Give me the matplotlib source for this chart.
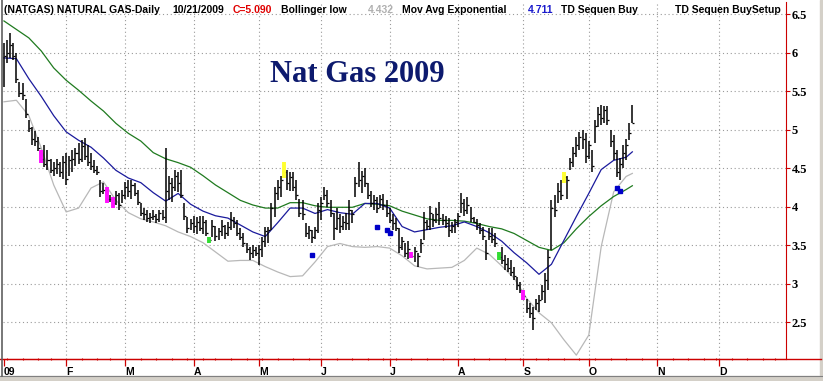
import matplotlib.pyplot as plt
import numpy as np
import pandas as pd
from matplotlib.lines import Line2D
from matplotlib.patches import Rectangle

# NYMEX trading calendar 2009
holidays = ['2009-01-01', '2009-01-19', '2009-02-16', '2009-04-10', '2009-05-25',
            '2009-07-03', '2009-09-07', '2009-11-26', '2009-12-25']
days = pd.bdate_range('2009-01-01', '2009-12-31', freq='C', holidays=holidays)

# daily bars, Jan 2 .. Oct 21 2009
high = [6.12, 6.16, 6.25, 6.12, 6.00, 5.62, 5.60, 5.40, 5.12, 5.03,
        4.98, 4.90, 4.74, 4.80, 4.73, 4.62, 4.58, 4.62, 4.58, 4.66,
        4.70, 4.66, 4.74, 4.76, 4.82, 4.86, 4.89, 4.80, 4.70, 4.60,
        4.52, 4.34, 4.30, 4.25, 4.15, 4.12, 4.20, 4.18, 4.22, 4.32,
        4.34, 4.34, 4.30, 4.22, 4.05, 3.98, 3.95, 3.92, 3.96, 3.90,
        3.96, 3.95, 4.76, 4.40, 4.37, 4.48, 4.45, 4.47, 4.05, 3.86,
        3.84, 3.88, 3.86, 3.88, 3.88, 3.82, 3.60, 3.82, 3.75, 3.72,
        3.82, 3.76, 3.80, 3.93, 3.86, 3.82, 3.72, 3.66, 3.53, 3.47,
        3.50, 3.48, 3.50, 3.60, 3.73, 3.74, 4.05, 4.25, 4.34, 4.40,
        4.58, 4.48, 4.45, 4.45, 4.34, 4.10, 4.08, 3.79, 3.75, 3.70,
        3.74, 4.05, 4.12, 4.25, 4.22, 4.08, 3.92, 3.98, 3.90, 3.88,
        3.92, 4.08, 3.96, 4.38, 4.58, 4.46, 4.50, 4.30, 4.20, 4.15,
        4.12, 4.15, 4.16, 4.08, 3.98, 3.90, 3.85, 3.72, 3.60, 3.53,
        3.55, 3.41, 3.48, 3.40, 3.58, 3.93, 3.82, 4.01, 3.90, 3.98,
        4.06, 3.90, 3.88, 3.85, 3.80, 3.84, 3.92, 4.17, 4.10, 4.12,
        4.00, 3.86, 3.84, 3.78, 3.74, 3.56, 3.72, 3.72, 3.66, 3.41,
        3.48, 3.37, 3.33, 3.30, 3.22, 3.08, 3.02, 2.92, 2.80, 2.75,
        2.69, 2.80, 2.85, 2.98, 3.14, 3.44, 4.08, 4.15, 4.30, 4.34,
        4.45, 4.40, 4.63, 4.77, 4.90, 4.97, 5.00, 4.95, 4.85, 4.73,
        5.12, 5.29, 5.32, 5.30, 5.30, 5.00, 4.93, 4.73, 4.63, 4.80,
        4.88, 5.08, 5.32]
low = [5.55, 5.86, 5.93, 5.90, 5.60, 5.42, 5.38, 5.15, 4.97, 4.80,
       4.78, 4.72, 4.56, 4.51, 4.47, 4.43, 4.40, 4.42, 4.38, 4.36,
       4.28, 4.40, 4.45, 4.52, 4.55, 4.58, 4.60, 4.52, 4.47, 4.44,
       4.41, 4.12, 4.16, 4.05, 4.06, 3.98, 4.02, 3.96, 4.05, 4.10,
       4.12, 4.10, 4.14, 4.02, 3.88, 3.82, 3.80, 3.78, 3.82, 3.78,
       3.80, 3.82, 3.79, 4.08, 4.06, 4.20, 4.19, 4.11, 3.82, 3.66,
       3.70, 3.66, 3.64, 3.68, 3.64, 3.62, 3.53, 3.60, 3.55, 3.56,
       3.62, 3.58, 3.62, 3.69, 3.72, 3.62, 3.56, 3.47, 3.40, 3.30,
       3.33, 3.36, 3.24, 3.35, 3.47, 3.52, 3.70, 3.86, 4.08, 4.12,
       4.37, 4.22, 4.20, 4.20, 4.08, 3.86, 3.82, 3.60, 3.58, 3.53,
       3.58, 3.66, 3.82, 4.08, 3.99, 3.86, 3.56, 3.70, 3.66, 3.70,
       3.70, 3.69, 3.78, 4.12, 4.25, 4.18, 4.25, 4.10, 4.00, 3.95,
       3.92, 3.98, 3.96, 3.86, 3.78, 3.70, 3.68, 3.40, 3.44, 3.34,
       3.32, 3.33, 3.28, 3.21, 3.40, 3.56, 3.70, 3.70, 3.74, 3.78,
       3.76, 3.76, 3.72, 3.60, 3.66, 3.66, 3.74, 3.92, 3.88, 3.90,
       3.80, 3.78, 3.70, 3.64, 3.56, 3.30, 3.56, 3.52, 3.48, 3.30,
       3.25, 3.18, 3.15, 3.10, 3.04, 2.92, 2.88, 2.79, 2.62, 2.55,
       2.40, 2.66, 2.63, 2.79, 2.75, 2.92, 3.44, 3.86, 4.05, 4.08,
       4.31, 4.10, 4.47, 4.51, 4.64, 4.73, 4.75, 4.56, 4.62, 4.45,
       4.83, 5.03, 5.06, 5.08, 5.06, 4.77, 4.60, 4.38, 4.34, 4.50,
       4.60, 4.86, 5.08]
close = [5.95, 6.00, 6.10, 5.95, 5.65, 5.48, 5.45, 5.20, 5.02, 4.88,
         4.85, 4.76, 4.62, 4.55, 4.60, 4.48, 4.50, 4.55, 4.45, 4.58,
         4.36, 4.60, 4.62, 4.70, 4.62, 4.78, 4.65, 4.58, 4.52, 4.48,
         4.45, 4.20, 4.22, 4.10, 4.10, 4.04, 4.15, 4.02, 4.15, 4.25,
         4.20, 4.28, 4.18, 4.06, 3.92, 3.90, 3.85, 3.86, 3.88, 3.84,
         3.92, 3.86, 4.20, 4.30, 4.25, 4.40, 4.30, 4.15, 3.88, 3.72,
         3.78, 3.75, 3.80, 3.72, 3.80, 3.66, 3.56, 3.75, 3.62, 3.68,
         3.75, 3.66, 3.74, 3.82, 3.78, 3.66, 3.60, 3.52, 3.45, 3.40,
         3.44, 3.40, 3.45, 3.55, 3.68, 3.70, 3.98, 4.18, 4.25, 4.35,
         4.45, 4.30, 4.38, 4.25, 4.15, 3.92, 3.90, 3.66, 3.70, 3.60,
         3.70, 3.95, 4.05, 4.15, 4.05, 3.92, 3.72, 3.85, 3.75, 3.80,
         3.78, 3.95, 3.90, 4.30, 4.35, 4.40, 4.30, 4.15, 4.05, 4.08,
         3.98, 4.10, 4.02, 3.92, 3.82, 3.78, 3.72, 3.48, 3.55, 3.40,
         3.45, 3.36, 3.42, 3.36, 3.52, 3.80, 3.75, 3.92, 3.82, 3.90,
         3.85, 3.82, 3.78, 3.70, 3.75, 3.80, 3.88, 4.05, 3.95, 4.02,
         3.85, 3.80, 3.76, 3.70, 3.62, 3.40, 3.62, 3.58, 3.52, 3.35,
         3.30, 3.25, 3.20, 3.15, 3.10, 2.98, 2.92, 2.84, 2.68, 2.62,
         2.55, 2.75, 2.78, 2.90, 3.05, 3.35, 3.98, 3.95, 4.20, 4.15,
         4.38, 4.35, 4.58, 4.70, 4.80, 4.90, 4.88, 4.65, 4.80, 4.52,
         5.05, 5.20, 5.15, 5.25, 5.12, 4.85, 4.70, 4.45, 4.55, 4.70,
         4.80, 4.95, 5.09]

# indicator lines, read every 4th bar (plus the last bar)
line_idx = np.append(np.arange(0, 201, 4), 202)
ema_long = [6.41, 6.30, 6.19, 6.02, 5.80, 5.64, 5.51, 5.37, 5.24, 5.08,
            4.95, 4.85, 4.70, 4.62, 4.57, 4.51, 4.40, 4.28, 4.18, 4.08,
            4.02, 3.98, 3.98, 4.05, 4.05, 4.01, 3.99, 3.99, 3.99, 4.04,
            4.03, 4.01, 3.94, 3.89, 3.84, 3.82, 3.82, 3.81, 3.78, 3.74,
            3.71, 3.65, 3.56, 3.47, 3.43, 3.53, 3.71, 3.87, 4.01, 4.13,
            4.22, 4.27]
ema_short = [5.93, 5.92, 5.66, 5.43, 5.18, 4.97, 4.86, 4.77, 4.63, 4.47,
             4.37, 4.31, 4.18, 4.07, 4.17, 4.03, 3.94, 3.88, 3.85, 3.76,
             3.67, 3.61, 3.79, 3.98, 3.98, 3.91, 3.96, 3.92, 3.90, 4.04,
             4.04, 3.98, 3.74, 3.67, 3.70, 3.73, 3.75, 3.80, 3.74, 3.66,
             3.55, 3.40, 3.27, 3.12, 3.25, 3.56, 3.87, 4.17, 4.48, 4.60,
             4.64, 4.71]
boll_low = [5.36, 5.38, 5.18, 4.76, 4.28, 3.93, 3.98, 4.24, 4.32, 4.08,
            3.92, 3.84, 3.80, 3.75, 3.67, 3.61, 3.53, 3.41, 3.29, 3.30,
            3.30, 3.22, 3.15, 3.09, 3.10, 3.28, 3.48, 3.52, 3.48, 3.47,
            3.48, 3.46, 3.36, 3.23, 3.19, 3.20, 3.21, 3.30, 3.46, 3.38,
            3.23, 3.07, 2.81, 2.62, 2.49, 2.27, 2.07, 2.33, 3.48, 4.19,
            4.39, 4.43]

# TD Sequential highlights
magenta_idx = [12, 33, 35, 131, 167]
yellow_idx = [90, 180]
green_idx = [66, 159]
buy_idx = [99, 120, 123, 124, 197, 198]
buy_val = [3.37, 3.73, 3.70, 3.66, 4.24, 4.20]

month_labels = ['09', 'F', 'M', 'A', 'M', 'J', 'J', 'A', 'S', 'O', 'N', 'D']
y_ticks = [2.5, 3, 3.5, 4, 4.5, 5, 5.5, 6, 6.5]

W, H = 823, 381
fig = plt.figure(figsize=(W / 100, H / 100), dpi=100)
fig.patch.set_facecolor('white')
ax = fig.add_axes([3 / W, 1 - 359 / H, 783 / W, 357 / H])
ax.set_facecolor('white')

x = np.arange(len(high))
months = np.asarray(days.month)
month_pos = [int(np.where(months == m)[0][0]) for m in range(1, 13)]
weeks = np.asarray(days.isocalendar().week)
week_pos = np.where(np.diff(weeks) != 0)[0] + 1

# dotted grid
dot = (0, (1, 2.5))
for y in y_ticks:
    ax.axhline(y, color='#9a9a9a', lw=0.8, ls=dot, zorder=0)
for p in month_pos[1:]:
    ax.axvline(p, color='#9a9a9a', lw=0.8, ls=dot, zorder=0)

# indicators
ax.plot(line_idx, boll_low, color='#b8b8b8', lw=0.9, zorder=1)
ax.plot(line_idx, ema_long, color='#1f7a1f', lw=0.9, zorder=1)
ax.plot(line_idx, ema_short, color='#1a1a9c', lw=0.9, zorder=1)

# bars
ax.vlines(x, low, high, color='black', lw=1.1, zorder=2)
ax.hlines(close, x, x + 0.65, color='black', lw=0.9, zorder=2)

hi = np.array(high)
lo = np.array(low)
for idx, col in [(magenta_idx, '#ff10ff'), (yellow_idx, '#ffff30'), (green_idx, '#33dd33')]:
    ax.vlines(idx, lo[idx], hi[idx], color=col, lw=2.8, zorder=3)
ax.plot(buy_idx, buy_val, ls='none', marker='s', ms=2.2, color='#0000c8', zorder=3)

ax.set_xlim(-0.3, 251.4)
ax.set_ylim(2.02, 6.656)

# axes styling
red = '#cc0000'
for s in ['left', 'top']:
    ax.spines[s].set_visible(False)
ax.spines['right'].set_color(red)
ax.spines['bottom'].set_color(red)
ax.yaxis.tick_right()
ax.set_yticks(y_ticks)
ax.set_yticklabels([f'{v:g}' for v in y_ticks], family='Liberation Serif',
                   fontweight='bold', fontsize=9)
ax.tick_params(axis='y', colors=red, labelcolor='black', length=3, width=0.8, pad=1)
ax.set_xticks(month_pos)
ax.set_xticklabels(month_labels, family='Liberation Sans', fontweight='bold', fontsize=7.5)
ax.set_xticks(week_pos, minor=True)
ax.tick_params(axis='x', which='major', colors=red, labelcolor='black', length=5, width=0.9, pad=1)
ax.tick_params(axis='x', which='minor', colors=red, length=2, width=0.8, direction='inout')
for lab in ax.get_xticklabels():
    lab.set_ha('left')

# full-width red baseline and window edges
fig.add_artist(Line2D([0, 821 / W], [1 - 359 / H] * 2, transform=fig.transFigure, color=red, lw=1))
fig.add_artist(Rectangle((0, 0), 1, 5 / H, transform=fig.transFigure, color='#d4d0c8', zorder=0))
fig.add_artist(Line2D([0, 1], [5 / H] * 2, transform=fig.transFigure, color='#808080', lw=0.8))
fig.add_artist(Line2D([1.5 / W] * 2, [5 / H, 1], transform=fig.transFigure, color='#606060', lw=1.2))
fig.add_artist(Rectangle((820 / W, 0), 3 / W, 1, transform=fig.transFigure, color='#d4d0c8', zorder=0))

# header
hy = 1 - 10 / H
hdr = dict(family='Liberation Sans', fontweight='bold', fontsize=7.5, va='center', ha='left')
for px, txt, col in [(4, '(NATGAS) NATURAL GAS-Daily', 'black'),
                     (172, '10/21/2009', 'black'),
                     (233, 'C=5.090', '#e00000'),
                     (281, 'Bollinger low', 'black'),
                     (368, '4.432', '#b0b0b0'),
                     (402, 'Mov Avg Exponential', 'black'),
                     (528, '4.711', '#1a1acc'),
                     (561, 'TD Sequen Buy', 'black'),
                     (675, 'TD Sequen BuySetup', 'black')]:
    fig.text(px / W, hy, txt, color=col, **hdr)

fig.text(357 / W, 1 - 75 / H, 'Nat Gas 2009', family='Liberation Serif', fontweight='bold',
         fontsize=22, color='#0d1a6e', ha='center', va='center')

fig.savefig('out.png', dpi=100)
